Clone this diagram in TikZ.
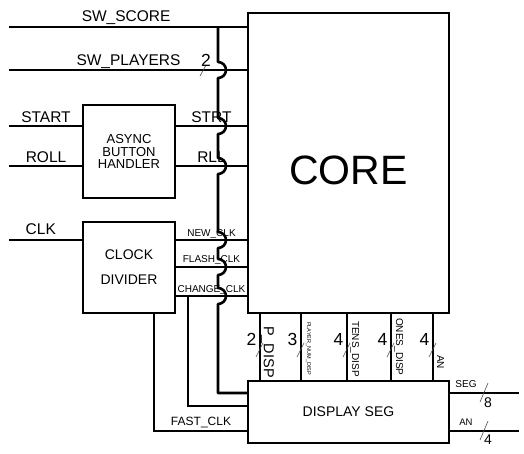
\documentclass[tikz,border=0pt]{standalone}
\usepackage{fontspec}
\setmainfont{Liberation Sans}
\usetikzlibrary{calc}

\tikzset{
    blk/.style={rectangle, draw, line width=1.8pt, inner sep=0pt, outer sep=0pt, align=center},
    wire/.style={line width=1.8pt},
    mainwire/.style={line width=2.6pt, line join=round},
    slash/.style={line width=0.6pt, draw=black!70},
    hop/.style={insert path={arc[start angle=90, end angle=-90, radius=8pt]}},
    inlbl/.style={font=\fontsize{15.5}{18}\selectfont, inner sep=0pt},
    clklbl/.style={font=\fontsize{10}{12}\selectfont, inner sep=0pt},
    numlbl/.style={font=\fontsize{17.5}{20}\selectfont, inner sep=0pt}
}

\begin{document}
\begin{tikzpicture}[x=1pt, y=-1pt]
    \useasboundingbox (0,0) rectangle (524,453);

    % Blocks
    \node[blk, minimum width=201pt, minimum height=300pt, text height=44pt,
          font=\fontsize{41}{45}\selectfont] (core) at (348.5,163) {CORE};
    \node[blk, minimum width=92pt, minimum height=93pt,
          font=\fontsize{13}{12.2}\selectfont] (async) at (129,151.5) {ASYNC\\BUTTON\\HANDLER};
    \node[blk, minimum width=92pt, minimum height=91pt,
          font=\fontsize{14}{25}\selectfont] (clkdiv) at (129,267.5) {CLOCK\\DIVIDER};
    \node[blk, minimum width=201pt, minimum height=62pt,
          font=\fontsize{14}{16}\selectfont] (dispseg) at (348.5,412) {DISPLAY SEG};

    % Wire ends
    \coordinate (score) at (9,27);
    \coordinate (players) at (9,70);
    \coordinate (start) at (9,126);
    \coordinate (roll) at (9,166);
    \coordinate (clk) at (9,240);
    \coordinate (flash) at (9,267);
    \coordinate (change) at (9,296);
    \coordinate (hopx) at ([xshift=-30pt]core.north west);
    \coordinate (seg) at (519,393);
    \coordinate (an) at (519,431);

    % Inputs
    \draw[wire] (score) -- (score -| core.west) node[inlbl, pos=0.49, anchor=base, yshift=6pt] {SW\_SCORE};
    \draw[wire] (players) -- (players -| core.west) node[inlbl, pos=0.5, anchor=base, yshift=5pt] {SW\_PLAYERS};
    \draw[slash] ($(hopx |- players)+(-18,6)$) -- ($(hopx |- players)+(-12,-5)$);
    \node[numlbl] (nplayers) at ($(hopx |- players)+(-12,-10)$) {2};
    \draw[wire] (start) -- (start -| async.west) node[inlbl, midway, anchor=base, yshift=4pt] {START};
    \draw[wire] (roll) -- (roll -| async.west) node[inlbl, midway, anchor=base, yshift=4pt] {ROLL};
    \draw[wire] (clk) -- (clk -| clkdiv.west) node[inlbl, pos=0.43, anchor=base, yshift=6pt] {CLK};

    % Into core
    \draw[wire] (async.east |- start) -- (start -| core.west) node[inlbl, midway, anchor=base, yshift=4pt] {STRT};
    \draw[wire] (async.east |- roll) -- (roll -| core.west) node[inlbl, midway, anchor=base, yshift=4pt] {RLL};
    \draw[wire] (clkdiv.east |- clk) -- (clk -| core.west) node[clklbl, midway, anchor=base, yshift=4pt] {NEW\_CLK};
    \draw[wire] (clkdiv.east |- flash) -- (flash -| core.west) node[clklbl, midway, anchor=base, yshift=5pt] {FLASH\_CLK};
    \draw[wire] (clkdiv.east |- change) -- (change -| core.west) node[clklbl, midway, anchor=base, yshift=4pt] {CHANGE\_CLK};

    % Score line down to display
    \draw[mainwire] (hopx |- score)
        -- ($(hopx |- players)+(0,-8)$) [hop]
        -- ($(hopx |- start)+(0,-8)$) [hop]
        -- ($(hopx |- roll)+(0,-8)$) [hop]
        -- ($(hopx |- clk)+(0,-8)$) [hop]
        -- ($(hopx |- flash)+(0,-8)$) [hop]
        -- ($(hopx |- change)+(0,-8)$) [hop]
        |- ([shift={(0,-19)}]dispseg.west);

    % Clocks to display
    \draw[wire] ($(clkdiv.east |- change)+(13,0)$) |- ([shift={(0,-6)}]dispseg.west);
    \draw[wire] ([shift={(25,0)}]clkdiv.south) |- ([shift={(0,19)}]dispseg.west)
        node[pos=0.75, anchor=base, yshift=6pt, inner sep=0pt, font=\fontsize{12}{14}\selectfont] {FAST\_CLK};

    % Core to display buses
    \foreach \dx/\w/\txt/\fs/\ty in {12/2/P\_DISP/14.5/13, 53/3/PLAYER\_NUM\_DISP/5.5/9,
                                      99/4/TENS\_DISP/10/8, 143/4/ONES\_DISP/10/5, 185/4/AN/10/42} {
        \coordinate (bt) at ([shift={(\dx,0)}]core.south west);
        \draw[wire] (bt) -- (bt |- dispseg.north);
        \draw[slash] ([shift={(-4,44)}]bt) -- ([shift={(3,30)}]bt);
        \node[numlbl] at ([shift={(-8.5,26)}]bt) {\w};
        \node[rotate=-90, anchor=west, inner sep=0pt, font=\fontsize{\fs}{\fs}\selectfont]
            at ([shift={(7.5,\ty)}]bt) {\txt};
    }

    % Outputs
    \draw[wire] ([shift={(0,-19)}]dispseg.east) -- (seg);
    \draw[wire] ([shift={(0,19)}]dispseg.east) -- (an);
    \node[clklbl] (seglbl) at ([shift={(17,-28)}]dispseg.east) {SEG};
    \node[inner sep=0pt, font=\fontsize{9.5}{11}\selectfont] (anlbl) at ([shift={(17,10)}]dispseg.east) {AN};
    \draw[slash] ([shift={(31,-10)}]dispseg.east) -- ([shift={(39,-29)}]dispseg.east);
    \draw[slash] ([shift={(31,28)}]dispseg.east) -- ([shift={(39,9)}]dispseg.east);
    \node[inner sep=0pt, font=\fontsize{14}{16}\selectfont] (segw) at ([shift={(39,-9)}]dispseg.east) {8};
    \node[inner sep=0pt, font=\fontsize{14}{16}\selectfont] (anw) at ([shift={(39,28)}]dispseg.east) {4};
\end{tikzpicture}
\end{document}
